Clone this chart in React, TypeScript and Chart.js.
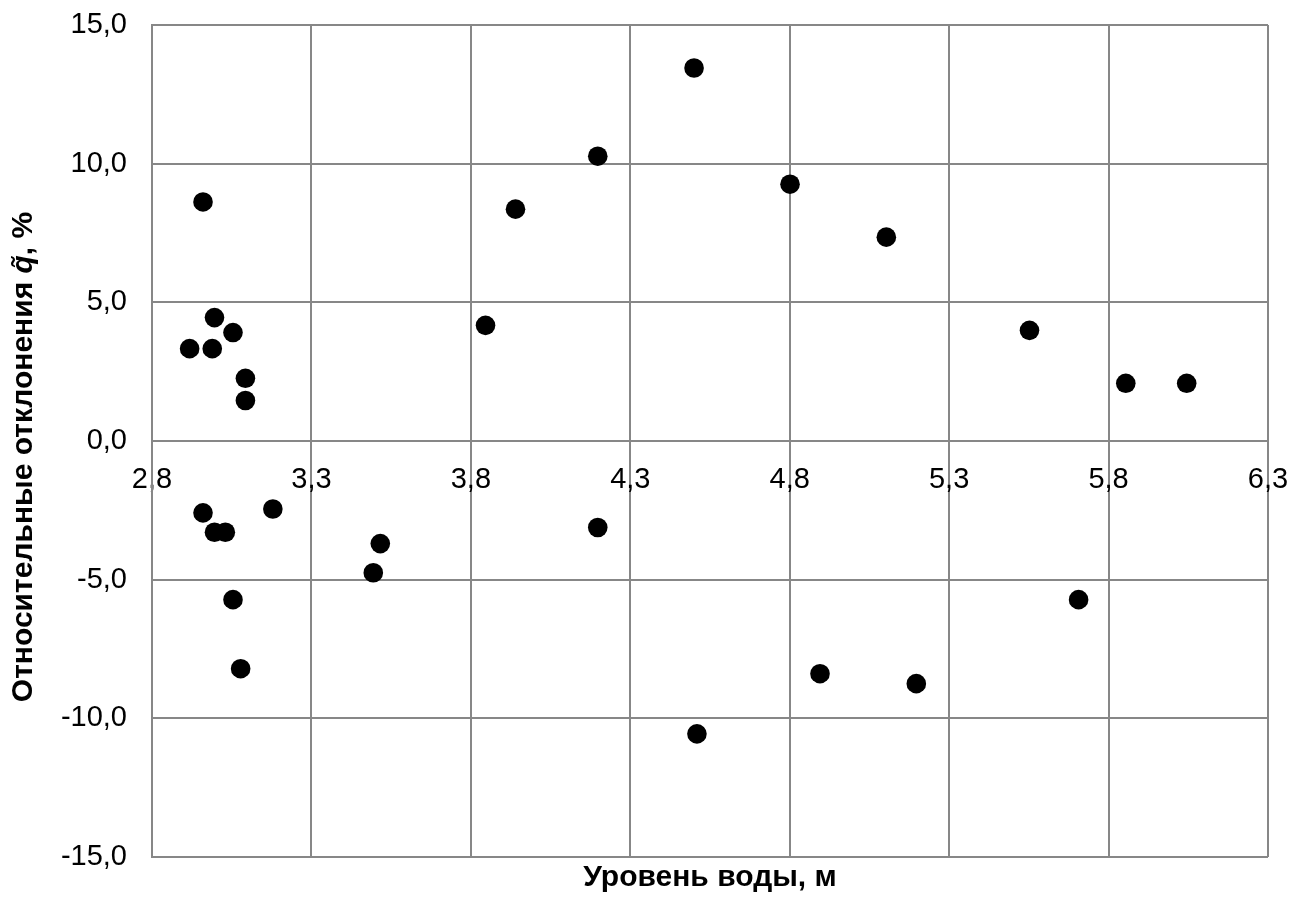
import React, { useEffect, useRef } from 'react';
import { Chart, registerables } from 'chart.js';

Chart.register(...registerables);

// Water level, m
const waterLevel = [
  2.918, 2.960, 2.996, 2.989, 3.054, 3.093, 3.093,
  2.960, 2.996, 3.030, 3.054, 3.078, 3.179,
  3.494, 3.516, 3.846, 3.940, 4.198, 4.198, 4.500, 4.509,
  4.801, 4.895, 5.103, 5.197, 5.552, 5.706, 5.854, 6.045,
];
// Relative deviation, %
const deviation = [
  3.33, 8.62, 4.45, 3.33, 3.91, 2.26, 1.46,
  -2.59, -3.29, -3.29, -5.72, -8.21, -2.45,
  -4.75, -3.70, 4.17, 8.36, 10.27, -3.12, 13.45, -10.56,
  9.26, -8.39, 7.35, -8.75, 3.99, -5.72, 2.08, 2.08,
];

const xTicks = [2.8, 3.3, 3.8, 4.3, 4.8, 5.3, 5.8, 6.3];
const yTicks = [-15, -10, -5, 0, 5, 10, 15];
const xTitle = 'Уровень воды, м';
const yTitleParts = ['Относительные отклонения ', 'q̃', ', %'];

const FAMILY = '"Liberation Sans", Arial, sans-serif';
const GRID = '#878787';
const TICK_SIZE = 29;
const TITLE_SIZE = 30;
const fmt = (v: number) => v.toFixed(1).replace('.', ',');

const yTitlePlugin = {
  id: 'yTitleMixed',
  afterDraw(chart: any) {
    const { ctx, chartArea } = chart;
    const cy = (chartArea.top + chartArea.bottom) / 2 + 16;
    const fonts = [
      `bold ${TITLE_SIZE}px ${FAMILY}`,
      `italic bold ${TITLE_SIZE}px ${FAMILY}`,
      `bold ${TITLE_SIZE}px ${FAMILY}`,
    ];
    ctx.save();
    ctx.translate(24, cy);
    ctx.rotate(-Math.PI / 2);
    const widths = yTitleParts.map((p, i) => {
      ctx.font = fonts[i];
      return ctx.measureText(p).width;
    });
    const total = widths.reduce((a, b) => a + b, 0);
    let x = -total / 2;
    ctx.textBaseline = 'middle';
    ctx.textAlign = 'left';
    ctx.fillStyle = '#000';
    yTitleParts.forEach((p, i) => {
      ctx.font = fonts[i];
      ctx.fillText(p, x, 0);
      x += widths[i];
    });
    ctx.restore();
  },
};

export default function App() {
  const ref = useRef<HTMLCanvasElement | null>(null);

  useEffect(() => {
    if (!ref.current) return;
    const chart = new Chart(ref.current, {
      type: 'scatter',
      data: {
        datasets: [
          {
            data: waterLevel.map((x, i) => ({ x, y: deviation[i] })),
            backgroundColor: '#000000',
            borderWidth: 0,
            pointRadius: 9.8,
            pointHoverRadius: 9.8,
          },
        ],
      },
      options: {
        responsive: false,
        animation: false,
        layout: { padding: { top: 25, right: 33, bottom: 0, left: 0 } },
        plugins: {
          legend: { display: false },
          tooltip: { enabled: false },
        },
        scales: {
          x: {
            type: 'linear',
            position: { y: 0 } as any,
            min: 2.8,
            max: 6.3,
            afterBuildTicks: (s: any) => {
              s.ticks = xTicks.map((v) => ({ value: v }));
            },
            afterFit: (s: any) => {
              s.paddingLeft = 0;
              s.paddingRight = 0;
            },
            grid: { color: GRID, lineWidth: 2, drawTicks: false },
            border: { display: true, color: GRID, width: 2 },
            ticks: {
              color: '#000',
              font: { family: FAMILY, size: TICK_SIZE },
              padding: 22,
              maxRotation: 0,
              callback: (v: any) => fmt(Number(v)),
            },
          },
          x2: {
            type: 'linear',
            position: 'bottom',
            min: 2.8,
            max: 6.3,
            grid: { display: false },
            border: { display: false },
            ticks: { display: false },
            afterFit: (s: any) => {
              s.height = 40;
              s.paddingLeft = 0;
              s.paddingRight = 0;
            },
            title: {
              display: true,
              text: xTitle,
              color: '#000',
              font: { family: FAMILY, size: TITLE_SIZE, weight: 'bold' },
              padding: { top: 0, bottom: 1 },
            },
          },
          y: {
            type: 'linear',
            position: 'left',
            min: -15,
            max: 15,
            afterBuildTicks: (s: any) => {
              s.ticks = yTicks.map((v) => ({ value: v }));
            },
            afterFit: (s: any) => {
              s.width = 152;
              s.paddingTop = 0;
              s.paddingBottom = 0;
            },
            grid: { color: GRID, lineWidth: 2, drawTicks: false },
            border: { display: true, color: GRID, width: 2 },
            ticks: {
              color: '#000',
              font: { family: FAMILY, size: TICK_SIZE },
              padding: 25,
              callback: (v: any) => fmt(Number(v)),
            },
          },
        },
      },
      plugins: [yTitlePlugin],
    });
    return () => chart.destroy();
  }, []);

  return (
    <div style={{ position: 'absolute', left: 0, top: 0, width: 1301, height: 897, background: '#fff' }}>
      <canvas ref={ref} width={1301} height={897} style={{ display: 'block' }} />
    </div>
  );
}
